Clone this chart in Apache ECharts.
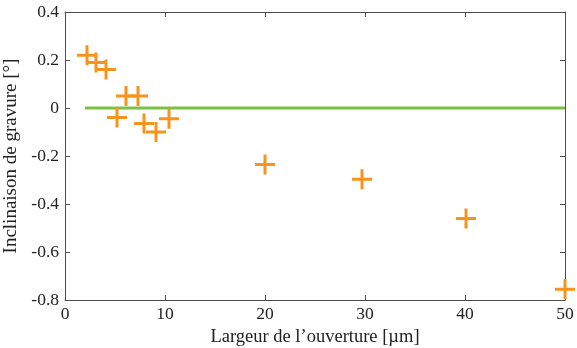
<!DOCTYPE html>
<html>
<head>
<meta charset="utf-8">
<script src="https://cdn.jsdelivr.net/npm/echarts@6/dist/echarts.min.js"></script>
<style>
  html, body { margin: 0; padding: 0; background: #fff; }
  #chart { width: 577px; height: 348px; }
</style>
</head>
<body>
<div id="chart"></div>
<script>
// mesures : largeur d'ouverture (µm) / inclinaison (°)
var largeurs = [2.2, 3.1, 4.1, 5.2, 6.1, 7.3, 7.9, 9.1, 10.4, 20.0, 29.7, 40.1, 50.0];
var inclinaisons = [0.22, 0.19, 0.16, -0.04, 0.05, 0.05, -0.065, -0.10, -0.045, -0.235, -0.297, -0.46, -0.755];
// ligne de référence a 0°
var refX = [2, 50];
var refY = [0, 0];

var xTicks = { min: 0, max: 50, interval: 10 };
var yTicks = { min: -0.8, max: 0.4, interval: 0.2 };

var points = largeurs.map(function (x, i) { return [x, inclinaisons[i]]; });
var refLine = refX.map(function (x, i) { return [x, refY[i]]; });

var police = 'Liberation Serif';
var axeCouleur = '#4d4d4d';
var plus = 'path://M0,8.5H20V11.5H0Z M8.5,0H11.5V20H8.5Z';

function axe(extra) {
    var a = {
        type: 'value',
        axisLine: { show: true, onZero: false, lineStyle: { color: axeCouleur, width: 1 } },
        axisTick: { show: true, inside: true, length: 5, lineStyle: { color: axeCouleur } },
        splitLine: { show: false }
    };
    for (var k in extra) a[k] = extra[k];
    return a;
}

var chart = echarts.init(document.getElementById('chart'));
var options = {
    animation: false,
    grid: { left: 65, right: 12, top: 12, bottom: 48, containLabel: false, outerBoundsMode: 'none' },
    xAxis: [
        axe({
            min: xTicks.min, max: xTicks.max, interval: xTicks.interval,
            name: 'Largeur de l\u2019ouverture [\u00b5m]',
            nameLocation: 'middle', nameGap: 27,
            nameTextStyle: { fontFamily: police, fontSize: 18.5, color: '#222' },
            axisLabel: { fontFamily: police, fontSize: 17.5, color: '#222', margin: 5 }
        }),
        axe({
            position: 'top', min: xTicks.min, max: xTicks.max, interval: xTicks.interval,
            axisLabel: { show: false }
        })
    ],
    yAxis: [
        axe({
            min: yTicks.min, max: yTicks.max, interval: yTicks.interval,
            name: 'Inclinaison de gravure [\u00b0]',
            nameLocation: 'middle', nameGap: 44,
            nameTextStyle: { fontFamily: police, fontSize: 19, color: '#222' },
            axisLabel: { fontFamily: police, fontSize: 17.5, color: '#222', margin: 6 }
        }),
        axe({
            position: 'right', min: yTicks.min, max: yTicks.max, interval: yTicks.interval,
            axisLabel: { show: false }
        })
    ],
    series: [
        {
            type: 'line',
            data: refLine,
            symbol: 'none',
            lineStyle: { color: '#7cc242', width: 3 },
            z: 2
        },
        {
            type: 'scatter',
            data: points,
            symbol: plus,
            symbolSize: 20,
            itemStyle: { color: '#f7941d', opacity: 1 },
            z: 3
        }
    ]
};
chart.setOption(options);
</script>
</body>
</html>
